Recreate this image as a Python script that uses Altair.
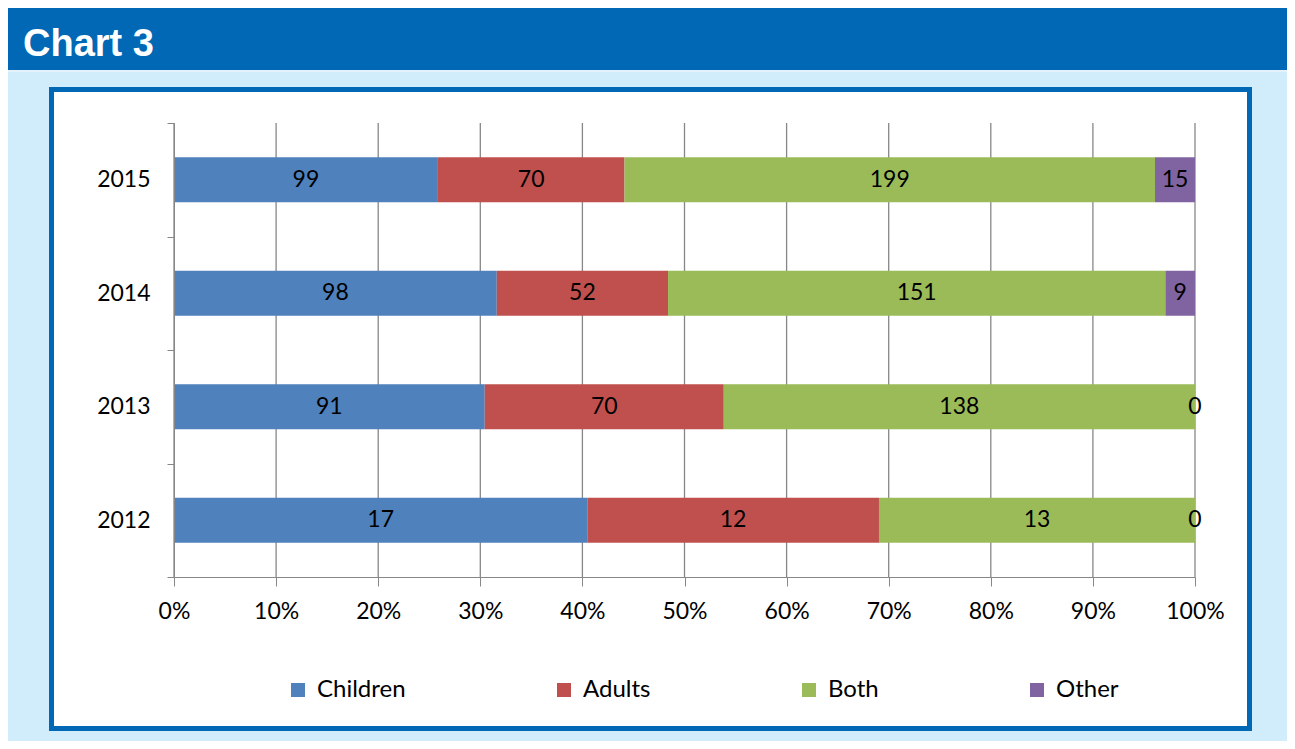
import altair as alt
import pandas as pd

years = ["2015", "2014", "2013", "2012"]
categories = ["Children", "Adults", "Both", "Other"]
children = [99, 98, 91, 17]
adults = [70, 52, 70, 12]
both = [199, 151, 138, 13]
other = [15, 9, 0, 0]
tick_values = [0, 0.1, 0.2, 0.3, 0.4, 0.5, 0.6, 0.7, 0.8, 0.9, 1.0]
colors = ["#4f81bd", "#c0504d", "#9bbb59", "#8064a2"]

rows = []
for i, y in enumerate(years):
    for j, (c, vals) in enumerate(zip(categories, [children, adults, both, other])):
        rows.append({"year": y, "category": c, "value": vals[i], "order": j})
df = pd.DataFrame(rows)

W, H = 1021, 454
FONT = "Lato"
GRAY = "#878787"
BLUE = "#0068b4"

one = pd.DataFrame({"k": [0]})

header = alt.Chart(one).mark_rect(color=BLUE).encode(
    x=alt.value(-166), x2=alt.value(1113), y=alt.value(-116), y2=alt.value(-53)
)
header_line = alt.Chart(one).mark_rule(color="#eaf5fc", strokeWidth=1.5).encode(
    x=alt.value(-166), x2=alt.value(1113), y=alt.value(-52)
)
title = alt.Chart(one).mark_text(
    text="Chart 3", font="Liberation Sans", fontWeight="bold", fontSize=38,
    color="white", align="left", baseline="alphabetic"
).encode(x=alt.value(-151), y=alt.value(-67))
panel = alt.Chart(one).mark_rect(fill="white", stroke=BLUE, strokeWidth=5).encode(
    x=alt.value(-122.5), x2=alt.value(1075.5), y=alt.value(-33.5), y2=alt.value(605.5)
)

x_axis = alt.Axis(
    values=tick_values, format="%", grid=False, title=None, zindex=1,
    domainColor=GRAY, tickColor=GRAY, tickSize=9, labelFont=FONT, labelFontSize=23,
    labelColor="black", labelPadding=14, labelFlush=False
)
x_scale = alt.Scale(domain=[0, 1], nice=False)

grid = alt.Chart(pd.DataFrame({"t": tick_values})).mark_rule(color=GRAY, strokeWidth=1.3).encode(
    x=alt.X("t:Q", axis=x_axis, scale=x_scale)
)

y_axis = alt.Axis(
    title=None, tickBand="extent", zindex=1, domainColor=GRAY, tickColor=GRAY,
    tickSize=7, labelFont=FONT, labelFontSize=23, labelColor="black", labelPadding=17
)
y_scale = alt.Scale(domain=years, paddingInner=0, paddingOuter=0)

base = alt.Chart(df).transform_stack(
    stack="value", groupby=["year"], as_=["x0", "x1"], offset="normalize",
    sort=[alt.SortField("order")]
).transform_calculate(mid="(datum.x0 + datum.x1) / 2")

bars = base.mark_bar(height=alt.RelativeBandSize(0.396)).encode(
    x=alt.X("x0:Q", axis=x_axis, scale=x_scale),
    x2="x1:Q",
    y=alt.Y("year:N", axis=y_axis, scale=y_scale),
    color=alt.Color(
        "category:N",
        scale=alt.Scale(domain=categories, range=colors),
        legend=alt.Legend(
            title=None, orient="none", legendX=112, legendY=555, direction="horizontal",
            columns=4, symbolType="square", symbolSize=196, symbolStrokeWidth=0,
            labelFont=FONT, labelFontSize=24, labelColor="black", labelOffset=7,
            columnPadding=146, padding=0
        ),
    ),
)

labels = base.mark_text(font=FONT, fontSize=23, color="black", baseline="middle").encode(
    x=alt.X("mid:Q", axis=x_axis, scale=x_scale),
    y=alt.Y("year:N", axis=y_axis, scale=y_scale),
    text="value:Q",
)

chart = alt.layer(header, header_line, title, panel, grid, bars, labels).properties(
    width=W, height=H,
    padding={"left": 166, "top": 115, "right": 92, "bottom": 164},
    autosize=alt.AutoSizeParams(type="none"),
    background="#d1ecfa",
).configure_view(stroke=None)

chart.save("out.html", embed_options={"renderer": "svg", "actions": False})
